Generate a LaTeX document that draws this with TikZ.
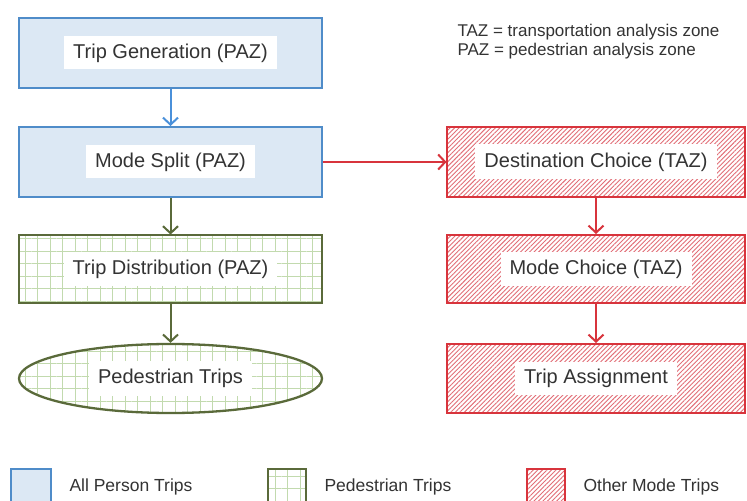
\documentclass[tikz,border=0pt]{standalone}
\usepackage{fontspec}
\setmainfont{Liberation Sans}
\usetikzlibrary{arrows.meta,shapes.geometric,patterns.meta}
\definecolor{bluebd}{HTML}{4F8CC9}
\definecolor{bluefill}{HTML}{DCE8F4}
\definecolor{bluearr}{HTML}{4A90DA}
\definecolor{greenbd}{HTML}{5A6A3A}
\definecolor{greengrid}{HTML}{C2DAAE}
\definecolor{redbd}{HTML}{D8343C}
\definecolor{redhatch}{HTML}{E26E77}
\definecolor{txt}{HTML}{333333}
\begin{document}
\begin{tikzpicture}[x=1bp,y=-1bp,
  every node/.style={text=txt},
  bluebox/.style={draw=bluebd, line width=2bp, fill=bluefill, inner sep=0},
  greenbox/.style={draw=greenbd, line width=2bp, inner sep=0, preaction={fill=white},
    pattern={Hatch[angle=0,distance=12.5bp,line width=0.9bp]}, pattern color=greengrid},
  redbox/.style={draw=redbd, line width=2bp, inner sep=0, preaction={fill=white},
    pattern={Lines[angle=45,distance=3.2bp,line width=0.9bp]}, pattern color=redhatch},
  bigbox/.style={minimum width=303bp, minimum height=70bp},
  redbig/.style={minimum width=298bp, minimum height=70bp},
  labelbox/.style={fill=white, font=\fontsize{20bp}{24bp}\selectfont, inner xsep=9bp, inner ysep=0bp, minimum height=33bp},
  legendtext/.style={anchor=west, font=\fontsize{17.5bp}{21bp}\selectfont},
  flow/.style={line width=2bp, -{Straight Barb[length=7bp,width=15bp]}}
]
\useasboundingbox (0,0) rectangle (747,501);
\clip (0,0) rectangle (747,501);
\fill[white] (0,0) rectangle (747,501);

% left column
\node[bluebox, bigbox] (tg) at (170.5,53) {};
\node[labelbox] (tgl) at (tg.center) {Trip Generation (PAZ)};
\node[bluebox, bigbox] (ms) at (170.5,162) {};
\node[labelbox] (msl) at (ms.center) {Mode Split (PAZ)};
\node[greenbox, minimum width=303bp, minimum height=68bp] (td) at (170.5,269) {};
\node[labelbox] (tdl) at (td.center) {Trip Distribution (PAZ)};
\node[greenbox, ellipse, line width=2.3bp, minimum width=303bp, minimum height=69bp] (pt) at (170.5,378.5) {};
\node[labelbox, minimum height=35bp] (ptl) at (pt.center) {Pedestrian Trips};

% right column
\node[redbox, redbig] (dc) at (596,162) {};
\node[labelbox, minimum height=35bp] (dcl) at (dc.center) {Destination Choice (TAZ)};
\node[redbox, minimum width=298bp, minimum height=68bp] (mc) at (596,269) {};
\node[labelbox] (mcl) at (mc.center) {Mode Choice (TAZ)};
\node[redbox, minimum width=298bp, minimum height=69bp] (ta) at (596,378.5) {};
\node[labelbox] (tal) at (ta.center) {Trip Assignment};

% connectors
\draw[flow, bluearr] (tg.south) -- (ms.north);
\draw[flow, greenbd] (ms.south) -- (td.north);
\draw[flow, greenbd] (td.south) -- (pt.north);
\draw[flow, redbd] (ms.east) -- (dc.west);
\draw[flow, redbd] (dc.south) -- (mc.north);
\draw[flow, redbd] (mc.south) -- (ta.north);

% note
\node[anchor=west, align=left, font=\fontsize{17bp}{19bp}\selectfont] (note) at (454,42)
  {TAZ = transportation analysis zone\\PAZ = pedestrian analysis zone};

% legend
\node[bluebox, anchor=north west, minimum width=40bp, minimum height=50bp] (lb) at (10,468) {};
\node[legendtext] (lbt) at (66,487) {All Person Trips};
\node[greenbox, anchor=north west, minimum width=38bp, minimum height=50bp] (lg) at (267,468) {};
\node[legendtext] (lgt) at (321,487) {Pedestrian Trips};
\node[redbox, anchor=north west, minimum width=38bp, minimum height=50bp] (lr) at (526,468) {};
\node[legendtext] (lrt) at (580,487) {Other Mode Trips};
\end{tikzpicture}
\end{document}
